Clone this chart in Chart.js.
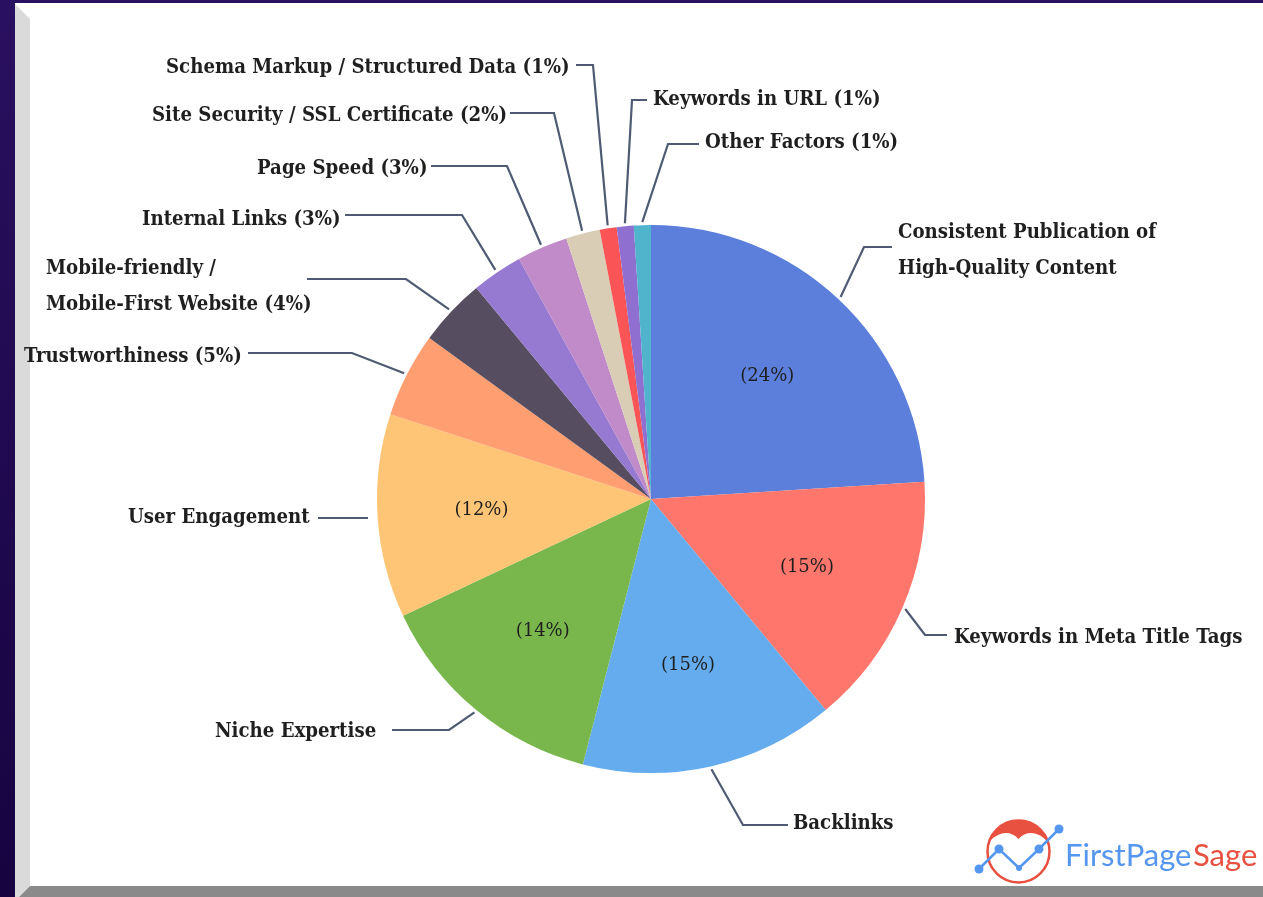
<!DOCTYPE html>
<html>
<head>
<meta charset="utf-8">
<title>Ranking factors</title>
<style>
  html, body { margin: 0; padding: 0; background: #fff; overflow: hidden; }
  canvas { display: block; }
</style>
<script src="https://cdn.jsdelivr.net/npm/chart.js@4/dist/chart.umd.js"></script>
</head>
<body>
<canvas id="out" width="1263" height="897"></canvas>
<script>
const categories = [
  "Consistent Publication of High-Quality Content",
  "Keywords in Meta Title Tags",
  "Backlinks",
  "Niche Expertise",
  "User Engagement",
  "Trustworthiness",
  "Mobile-friendly / Mobile-First Website",
  "Internal Links",
  "Page Speed",
  "Site Security / SSL Certificate",
  "Schema Markup / Structured Data",
  "Keywords in URL",
  "Other Factors"
];
const shares = [24, 15, 15, 14, 12, 5, 4, 3, 3, 2, 1, 1, 1];
const sliceColors = [
  "#5b7fdb", "#ff766d", "#65acee", "#79b74c", "#fec576", "#ff9e70", "#564e60",
  "#9679d1", "#c08bc8", "#d9cdb5", "#fb5457", "#8f6fcf", "#4fb4cc"
];

// text of each outside label, one entry per line
const labelLines = [
  ["Consistent Publication of", "High-Quality Content"],
  ["Keywords in Meta Title Tags"],
  ["Backlinks"],
  ["Niche Expertise"],
  ["User Engagement"],
  ["Trustworthiness (5%)"],
  ["Mobile-friendly /", "Mobile-First Website (4%)"],
  ["Internal Links (3%)"],
  ["Page Speed (3%)"],
  ["Site Security / SSL Certificate (2%)"],
  ["Schema Markup / Structured Data (1%)"],
  ["Keywords in URL (1%)"],
  ["Other Factors (1%)"]
];

// where the outside labels and their leader lines sit
const labelX = [898, 954, 793, 215, 128, 24, 46, 142, 257, 152, 166, 653, 705];
const labelY = [233, 638, 824, 732, 518, 357, 269, 220, 169, 116, 68, 100, 143];
const leaders = [
  [[864, 247], [892, 247]],
  [[925, 635], [947, 635]],
  [[743, 825], [788, 825]],
  [[449, 730], [392, 730]],
  [[368, 518], [318, 518]],
  [[352, 353], [248, 353]],
  [[406, 279], [307, 279]],
  [[462, 215], [345, 215]],
  [[507, 166], [431, 166]],
  [[554, 113], [510, 113]],
  [[593, 65], [576, 65]],
  [[632, 100], [647, 100]],
  [[668, 144], [699, 144]]
];
const inSliceMin = 12;

const framePlugin = {
  id: "frame",
  beforeDraw(chart) {
    const c = chart.ctx;
    const w = chart.width, h = chart.height;
    c.save();
    c.fillStyle = "#ffffff";
    c.fillRect(0, 0, w, h);
    // dark page behind the card
    const dark = c.createLinearGradient(0, 0, 0, h);
    dark.addColorStop(0, "#2a1060");
    dark.addColorStop(1, "#170340");
    c.fillStyle = dark;
    c.fillRect(0, 0, w, 3);
    c.fillRect(0, 0, 15, h);
    // bevel left and bottom
    c.fillStyle = "#dadada";
    c.beginPath();
    c.moveTo(15, 4); c.lineTo(30, 19); c.lineTo(30, 886); c.lineTo(19, 897); c.lineTo(15, 897);
    c.closePath();
    c.fill();
    c.fillStyle = "#8a8a8a";
    c.beginPath();
    c.moveTo(30, 886); c.lineTo(w, 886); c.lineTo(w, 897); c.lineTo(19, 897);
    c.closePath();
    c.fill();
    c.restore();
  }
};

const labelPlugin = {
  id: "outsideLabels",
  afterDatasetsDraw(chart) {
    const c = chart.ctx;
    const arcs = chart.getDatasetMeta(0).data;
    c.save();
    arcs.forEach((arc, i) => {
      const mid = (arc.startAngle + arc.endAngle) / 2;
      const r = arc.outerRadius;
      // leader line, starting at the edge of its slice
      const path = leaders[i];
      c.strokeStyle = "#4f5b72";
      c.lineWidth = 2.2;
      c.beginPath();
      if (categories[i] === "User Engagement") {
        c.moveTo(path[0][0], path[0][1]);
      } else {
        c.moveTo(arc.x + Math.cos(mid) * (r + 3), arc.y + Math.sin(mid) * (r + 3));
        c.lineTo(path[0][0], path[0][1]);
      }
      c.lineTo(path[1][0], path[1][1]);
      c.stroke();

      c.fillStyle = "#1f1f1f";
      c.font = 'bold 20.2px "DejaVu Serif"';
      c.fontStretch = "condensed";
      c.textAlign = "left";
      c.textBaseline = "middle";
      labelLines[i].forEach((line, k) => {
        c.fillText(line, labelX[i], labelY[i] + k * 36);
      });

      if (shares[i] >= inSliceMin) {
        c.font = '18px "DejaVu Serif"';
        c.fontStretch = "normal";
        c.textAlign = "center";
        c.fillText("(" + shares[i] + "%)", arc.x + Math.cos(mid) * r * 0.62, arc.y + Math.sin(mid) * r * 0.62 + 1);
      }
    });
    c.restore();
  }
};

const logoPlugin = {
  id: "logo",
  afterDraw(chart) {
    const c = chart.ctx;
    const red = "#e8503f", blue = "#5596ee";
    c.save();
    c.strokeStyle = red;
    c.lineWidth = 2.5;
    c.beginPath();
    c.arc(1018.5, 851.5, 31, 0, Math.PI * 2);
    c.stroke();
    c.fillStyle = red;
    c.beginPath();
    c.arc(1018.5, 851.5, 31, Math.PI * 1.09, Math.PI * 1.91);
    c.bezierCurveTo(1042, 834, 1028, 828, 1018.5, 839);
    c.bezierCurveTo(1009, 828, 995, 834, 988.5, 843);
    c.closePath();
    c.fill();
    const pts = [[979, 869], [999, 849], [1019, 868], [1039, 849], [1059, 829]];
    c.strokeStyle = blue;
    c.fillStyle = blue;
    c.lineWidth = 2.5;
    c.beginPath();
    pts.forEach((p, i) => i ? c.lineTo(p[0], p[1]) : c.moveTo(p[0], p[1]));
    c.stroke();
    pts.forEach((p) => {
      c.beginPath();
      c.arc(p[0], p[1], p[0] === 1019 ? 3 : 4.5, 0, Math.PI * 2);
      c.fill();
    });
    c.font = '31px Lato';
    c.textAlign = "left";
    c.textBaseline = "alphabetic";
    c.fillStyle = blue;
    c.fillText("FirstPage", 1065, 866);
    c.fillStyle = red;
    c.fillText("Sage", 1193, 866);
    c.restore();
  }
};

const chartConfig = {
  type: "pie",
  data: {
    labels: categories,
    datasets: [{
      data: shares,
      backgroundColor: sliceColors,
      borderWidth: 0
    }]
  },
  options: {
    responsive: false,
    animation: false,
    layout: { padding: { left: 377, right: 338, top: 225, bottom: 124 } },
    plugins: {
      legend: { display: false },
      tooltip: { enabled: false }
    }
  },
  plugins: [framePlugin, labelPlugin, logoPlugin]
};

window.chart = new Chart(document.getElementById("out").getContext("2d"), chartConfig);
</script>
</body>
</html>
